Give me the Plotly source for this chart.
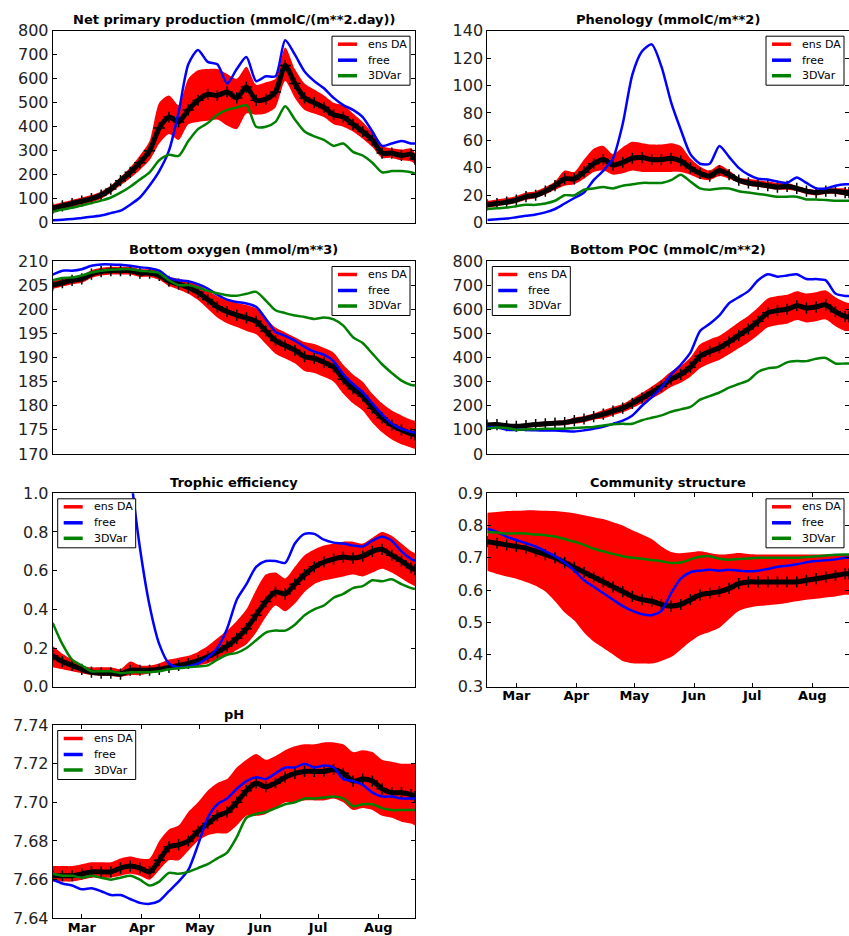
import pandas as pd
import plotly.graph_objects as go

# ---------------------------------------------------------------- data
# sample days counted from 14 Feb 2014 (every 5 days, plus the last day)
day_offsets = list(range(0, 186, 5)) + [187]
start_date = pd.Timestamp("2014-02-14")
dates = [start_date + pd.Timedelta(days=d) for d in day_offsets]

month_ticks = ["2014-03-01", "2014-04-01", "2014-05-01", "2014-06-01", "2014-07-01", "2014-08-01"]
month_labels = ["Mar", "Apr", "May", "Jun", "Jul", "Aug"]

series_names = ["ens DA", "free", "3DVar"]

# Net primary production (mmolC/(m**2.day))
npp_mean = [60, 70, 80, 90, 100, 115, 140, 175, 210, 250, 300, 395, 440, 420, 470, 510, 535, 530, 545, 520,
            565, 510, 515, 545, 655, 580, 520, 500, 480, 450, 440, 410, 380, 345, 290, 290, 280, 285, 265]
npp_lo = [45, 55, 65, 75, 85, 100, 125, 155, 185, 220, 260, 330, 370, 345, 410, 420, 425, 430, 405, 390,
          455, 450, 455, 480, 590, 520, 470, 455, 440, 410, 400, 380, 350, 315, 270, 270, 260, 255, 245]
npp_hi = [75, 85, 95, 105, 115, 130, 155, 190, 230, 280, 340, 500, 530, 490, 600, 635, 640, 640, 620, 600,
          650, 575, 585, 600, 730, 640, 580, 555, 530, 500, 490, 455, 420, 375, 320, 310, 305, 310, 290]
npp_free = [10, 12, 15, 20, 25, 30, 40, 50, 75, 105, 155, 215, 300, 460, 660, 720, 670, 660, 580, 640,
            690, 590, 610, 610, 760, 700, 630, 590, 560, 520, 490, 470, 440, 380, 320, 330, 340, 330, 330]
npp_3dvar = [45, 55, 62, 72, 82, 92, 105, 125, 150, 180, 210, 260, 283, 278, 340, 390, 415, 450, 470, 480,
             490, 400, 400, 420, 485, 430, 380, 360, 345, 320, 330, 295, 280, 250, 210, 215, 215, 210, 205]

# Phenology (mmolC/m**2)
phen_mean = [13, 14, 15, 16.5, 19, 20, 23, 27, 32, 32, 37, 43, 46, 42, 44, 47, 47.5, 46, 46, 47,
             45, 40, 36, 34, 38, 35, 31, 29, 28, 27, 26, 26.5, 25, 23, 22, 23, 23, 22, 22]
phen_lo = [11, 12, 13, 14.5, 16.5, 18, 20.5, 24, 27, 28, 32, 37, 38, 35, 36, 38, 37, 37, 37, 37,
           37, 35, 32, 31, 34, 32, 29, 27, 26, 25, 24, 24, 23, 21, 20, 21, 21, 20, 20]
phen_hi = [16, 17, 18, 19.5, 22, 23, 26, 30, 38, 37, 46, 54, 56, 50, 55, 59, 58, 57, 57, 58,
           56, 47, 41, 38, 42, 38, 33, 32, 31, 30, 29, 29, 27, 25, 24, 25, 25, 25, 24]
phen_free = [2, 2.5, 3, 4, 5, 6, 7.5, 10, 14, 18, 22, 31, 38, 47, 72, 108, 125, 130, 114, 88,
             68, 50, 43, 43, 56, 48, 40, 35, 32, 31.5, 30, 29, 33, 29, 25, 25, 27, 28, 28]
phen_3dvar = [10, 10.5, 11, 12, 13, 13, 14, 16, 20, 20, 24, 25, 26, 25, 27, 28, 29, 29, 29, 31,
              35, 30, 25, 24, 25, 25, 23, 22, 21, 20, 19, 19, 19, 17, 17, 16.5, 16, 16, 16]

# Bottom oxygen (mmol/m**3)
oxy_mean = [205.0, 205.5, 206.0, 206.3, 207.3, 207.8, 208.0, 208.0, 208.0, 207.5, 207.5, 207.0, 205.8,
            205.2, 204.5, 203.5, 202.0, 200.5, 199.5, 198.8, 198.2, 197.5, 195.5, 193.5, 192.5, 191.5,
            190.2, 189.8, 189.0, 188.0, 185.5, 183.5, 182.0, 179.5, 177.5, 176.0, 175.0, 174.2, 174.0]
oxy_lo = [204.2, 204.7, 205.2, 205.5, 206.5, 207.0, 207.2, 207.2, 207.2, 206.7, 206.7, 206.1, 204.8,
          204.1, 203.2, 201.9, 200.1, 198.3, 197.1, 196.3, 195.5, 194.8, 192.8, 190.8, 189.8, 188.8,
          187.2, 186.8, 186.0, 185.0, 182.5, 180.5, 179.0, 176.5, 174.5, 173.0, 172.0, 171.3, 171.1]
oxy_hi = [205.8, 206.3, 206.8, 207.1, 208.1, 208.6, 208.8, 208.8, 208.8, 208.3, 208.3, 207.9, 206.8,
          206.3, 205.8, 205.1, 203.9, 202.7, 201.9, 201.3, 200.9, 200.2, 198.2, 196.2, 195.2, 194.2,
          193.2, 192.8, 192.0, 191.0, 188.5, 186.5, 185.0, 182.5, 180.5, 179.0, 178.0, 177.1, 176.9]
oxy_free = [207.2, 208.0, 208.0, 208.3, 209.0, 209.3, 209.3, 209.2, 209.0, 208.7, 208.5, 208.0, 206.5,
            206.0, 205.8, 205.2, 204.3, 203.0, 202.0, 201.5, 201.2, 200.5, 198.0, 195.3, 194.5, 193.5,
            192.2, 191.2, 190.6, 189.2, 186.5, 184.5, 182.8, 180.5, 178.2, 176.3, 175.2, 174.6, 174.4]
oxy_3dvar = [206.0, 206.5, 206.6, 207.0, 207.6, 208.0, 208.2, 208.3, 208.3, 208.0, 207.8, 207.5, 206.0,
             205.0, 205.0, 204.5, 203.8, 203.3, 202.9, 202.8, 203.2, 203.6, 201.8, 199.8, 199.2, 198.7,
             198.4, 198.0, 198.3, 197.9, 196.6, 194.2, 193.0, 190.8, 188.6, 186.8, 185.2, 184.3, 184.2]

# Bottom POC (mmolC/m**2)
poc_mean = [120, 122, 117, 115, 118, 122, 125, 128, 130, 138, 145, 155, 165, 178, 190, 210, 232, 255, 280, 310,
            330, 360, 405, 425, 440, 465, 492, 518, 550, 585, 595, 600, 615, 605, 610, 618, 590, 570, 568]
poc_lo = [112, 114, 109, 107, 110, 112, 115, 118, 120, 125, 132, 142, 148, 161, 173, 190, 210, 230, 252, 278,
          295, 320, 355, 375, 390, 413, 438, 463, 493, 525, 535, 540, 555, 545, 550, 558, 530, 510, 510]
poc_hi = [128, 130, 125, 123, 126, 132, 135, 138, 140, 151, 158, 168, 182, 195, 207, 230, 254, 280, 308, 342,
          365, 400, 455, 475, 490, 517, 546, 573, 607, 645, 655, 660, 675, 665, 670, 678, 650, 630, 626]
poc_free = [110, 110, 100, 100, 100, 98, 97, 97, 95, 93, 98, 105, 113, 125, 138, 160, 200, 235, 275, 330,
            370, 420, 510, 540, 575, 625, 650, 675, 720, 745, 735, 740, 745, 725, 725, 720, 665, 655, 655]
poc_3dvar = [105, 110, 108, 100, 102, 103, 105, 105, 105, 108, 110, 112, 118, 123, 125, 125, 140, 150, 160, 175,
             185, 195, 225, 240, 255, 275, 290, 305, 340, 355, 360, 380, 385, 385, 395, 398, 375, 375, 375]

# Trophic efficiency
troph_mean = [0.16, 0.13, 0.11, 0.09, 0.075, 0.07, 0.07, 0.065, 0.085, 0.085, 0.085, 0.09, 0.10, 0.11, 0.12,
              0.135, 0.155, 0.18, 0.21, 0.25, 0.30, 0.37, 0.44, 0.49, 0.48, 0.53, 0.58, 0.62, 0.645, 0.66,
              0.67, 0.665, 0.675, 0.70, 0.71, 0.68, 0.65, 0.615, 0.605]
troph_lo = [0.10, 0.09, 0.08, 0.07, 0.06, 0.055, 0.055, 0.05, 0.06, 0.06, 0.07, 0.08, 0.09, 0.09, 0.10,
            0.11, 0.12, 0.14, 0.16, 0.19, 0.22, 0.28, 0.36, 0.42, 0.39, 0.43, 0.49, 0.53, 0.55, 0.56,
            0.57, 0.58, 0.57, 0.59, 0.61, 0.59, 0.56, 0.53, 0.52]
troph_hi = [0.21, 0.17, 0.14, 0.11, 0.10, 0.10, 0.10, 0.09, 0.13, 0.11, 0.11, 0.12, 0.14, 0.15, 0.16,
            0.18, 0.21, 0.25, 0.29, 0.34, 0.40, 0.50, 0.58, 0.59, 0.56, 0.62, 0.68, 0.71, 0.73, 0.74,
            0.75, 0.75, 0.74, 0.77, 0.80, 0.78, 0.74, 0.70, 0.69]
troph_free = [None, None, None, None, None, None, None, 1.6, 1.12, 0.72, 0.42, 0.22, 0.12, 0.10, 0.105,
              0.12, 0.15, 0.20, 0.30, 0.45, 0.53, 0.62, 0.65, 0.65, 0.64, 0.74, 0.79, 0.79, 0.76, 0.745,
              0.74, 0.73, 0.725, 0.755, 0.775, 0.755, 0.70, 0.66, 0.65]
troph_3dvar = [0.33, 0.22, 0.14, 0.11, 0.08, 0.08, 0.08, 0.07, 0.075, 0.075, 0.075, 0.08, 0.09, 0.095, 0.10,
               0.105, 0.11, 0.14, 0.165, 0.175, 0.20, 0.24, 0.28, 0.29, 0.29, 0.32, 0.37, 0.40, 0.42, 0.46,
               0.48, 0.51, 0.52, 0.55, 0.545, 0.555, 0.53, 0.51, 0.505]

# Community structure
comm_mean = [0.75, 0.745, 0.74, 0.735, 0.73, 0.72, 0.71, 0.70, 0.685, 0.67, 0.655, 0.64, 0.625, 0.61, 0.595,
             0.58, 0.57, 0.565, 0.555, 0.55, 0.555, 0.57, 0.585, 0.59, 0.595, 0.605, 0.62, 0.625, 0.625,
             0.625, 0.625, 0.625, 0.625, 0.63, 0.635, 0.64, 0.645, 0.65, 0.65]
comm_lo = [0.66, 0.65, 0.642, 0.635, 0.625, 0.613, 0.595, 0.565, 0.53, 0.505, 0.468, 0.44, 0.42, 0.40, 0.38,
           0.373, 0.372, 0.372, 0.38, 0.392, 0.415, 0.44, 0.46, 0.47, 0.483, 0.51, 0.535, 0.545, 0.55,
           0.553, 0.556, 0.56, 0.565, 0.57, 0.573, 0.577, 0.58, 0.585, 0.585]
comm_hi = [0.84, 0.842, 0.845, 0.846, 0.847, 0.847, 0.846, 0.845, 0.842, 0.838, 0.832, 0.826, 0.82, 0.81, 0.80,
           0.785, 0.772, 0.758, 0.735, 0.718, 0.714, 0.717, 0.72, 0.715, 0.71, 0.712, 0.715, 0.712, 0.71,
           0.71, 0.71, 0.71, 0.71, 0.71, 0.71, 0.71, 0.71, 0.71, 0.71]
comm_free = [0.79, 0.78, 0.765, 0.755, 0.745, 0.735, 0.72, 0.705, 0.685, 0.66, 0.63, 0.61, 0.59, 0.57, 0.55,
             0.535, 0.525, 0.522, 0.535, 0.59, 0.635, 0.655, 0.66, 0.663, 0.66, 0.663, 0.66, 0.658, 0.66,
             0.665, 0.672, 0.675, 0.68, 0.686, 0.69, 0.692, 0.695, 0.70, 0.70]
comm_3dvar = [0.78, 0.778, 0.775, 0.776, 0.775, 0.772, 0.77, 0.766, 0.758, 0.75, 0.74, 0.728, 0.72, 0.712,
              0.705, 0.70, 0.697, 0.693, 0.689, 0.684, 0.685, 0.695, 0.703, 0.705, 0.697, 0.694, 0.696,
              0.698, 0.70, 0.70, 0.70, 0.70, 0.70, 0.702, 0.705, 0.707, 0.709, 0.71, 0.71]

# pH
ph_mean = [7.662, 7.662, 7.662, 7.663, 7.664, 7.664, 7.664, 7.666, 7.667, 7.666, 7.664, 7.670, 7.677,
           7.678, 7.680, 7.685, 7.689, 7.693, 7.695, 7.700, 7.706, 7.710, 7.708, 7.710, 7.713, 7.715,
           7.716, 7.716, 7.716, 7.717, 7.715, 7.711, 7.712, 7.711, 7.707, 7.705, 7.705, 7.704, 7.703]
ph_lo = [7.659, 7.659, 7.659, 7.660, 7.661, 7.661, 7.661, 7.662, 7.663, 7.662, 7.660, 7.665, 7.670,
         7.670, 7.675, 7.680, 7.683, 7.684, 7.684, 7.688, 7.693, 7.693, 7.694, 7.697, 7.700, 7.700,
         7.701, 7.701, 7.701, 7.702, 7.700, 7.696, 7.697, 7.696, 7.693, 7.692, 7.690, 7.689, 7.688]
ph_hi = [7.667, 7.667, 7.667, 7.668, 7.669, 7.669, 7.669, 7.671, 7.672, 7.671, 7.671, 7.680, 7.686,
         7.688, 7.695, 7.700, 7.706, 7.710, 7.712, 7.718, 7.722, 7.725, 7.722, 7.724, 7.727, 7.729,
         7.730, 7.730, 7.731, 7.731, 7.730, 7.726, 7.727, 7.726, 7.722, 7.721, 7.720, 7.720, 7.720]
ph_free = [7.660, 7.658, 7.657, 7.655, 7.6555, 7.654, 7.652, 7.652, 7.650, 7.648, 7.6475, 7.649, 7.654,
           7.659, 7.665, 7.678, 7.692, 7.699, 7.702, 7.707, 7.711, 7.713, 7.712, 7.715, 7.718, 7.718,
           7.720, 7.718, 7.719, 7.718, 7.712, 7.711, 7.709, 7.705, 7.703, 7.703, 7.702, 7.702, 7.702]
ph_3dvar = [7.663, 7.662, 7.662, 7.661, 7.662, 7.661, 7.660, 7.661, 7.662, 7.660, 7.657, 7.659, 7.6635,
            7.663, 7.664, 7.666, 7.668, 7.671, 7.674, 7.682, 7.692, 7.694, 7.695, 7.697, 7.699, 7.700,
            7.702, 7.702, 7.7025, 7.703, 7.702, 7.698, 7.699, 7.699, 7.697, 7.696, 7.696, 7.696, 7.696]

# ---------------------------------------------------------------- panels
panels = [
    dict(title="Net primary production (mmolC/(m**2.day))", data=(npp_mean, npp_lo, npp_hi, npp_free, npp_3dvar),
         yrange=[0, 800], dtick=100, fmt="d", row=0, col=0, legend_side="right", xlabels=False),
    dict(title="Phenology (mmolC/m**2)", data=(phen_mean, phen_lo, phen_hi, phen_free, phen_3dvar),
         yrange=[0, 140], dtick=20, fmt="d", row=0, col=1, legend_side="right", xlabels=False),
    dict(title="Bottom oxygen (mmol/m**3)", data=(oxy_mean, oxy_lo, oxy_hi, oxy_free, oxy_3dvar),
         yrange=[170, 210], dtick=5, fmt="d", row=1, col=0, legend_side="right", xlabels=False),
    dict(title="Bottom POC (mmolC/m**2)", data=(poc_mean, poc_lo, poc_hi, poc_free, poc_3dvar),
         yrange=[0, 800], dtick=100, fmt="d", row=1, col=1, legend_side="left", xlabels=False),
    dict(title="Trophic efficiency", data=(troph_mean, troph_lo, troph_hi, troph_free, troph_3dvar),
         yrange=[0, 1.0], dtick=0.2, fmt=".1f", row=2, col=0, legend_side="left", xlabels=False),
    dict(title="Community structure", data=(comm_mean, comm_lo, comm_hi, comm_free, comm_3dvar),
         yrange=[0.3, 0.9], dtick=0.1, fmt=".1f", row=2, col=1, legend_side="right", xlabels=True),
    dict(title="pH", data=(ph_mean, ph_lo, ph_hi, ph_free, ph_3dvar),
         yrange=[7.64, 7.74], dtick=0.02, fmt=".2f", row=3, col=0, legend_side="left", xlabels=True),
]

# ---------------------------------------------------------------- geometry (pixels)
W, H = 849, 936
col_px = [(52.7, 415.0), (487.3, 849.0)]
row_px = [(30.7, 222.7), (261.0, 454.0), (493.3, 686.7), (725.0, 918.3)]
FONT = "DejaVu Sans"
RED, BLUE, GREEN = "#ff0000", "#0000ff", "#008000"
KEY_COLORS = [RED, BLUE, GREEN]
LEG_W, LEG_H = 78, 49
KEY_ROWS = [8, 24, 39.5]


def fx(px):
    return px / W


def fy(px):
    return 1 - px / H


fig = go.Figure()
annotations, shapes = [], []
axes = {}
SMOOTH = 0.7

for i, p in enumerate(panels, start=1):
    xa, ya = f"x{i}", f"y{i}"
    mean, lo, hi, free, var3 = p["data"]
    common = dict(xaxis=xa, yaxis=ya, showlegend=False)

    # ensemble spread band
    fig.add_trace(go.Scatter(x=dates, y=lo, mode="lines", line=dict(width=0, shape="spline", smoothing=SMOOTH),
                             hoverinfo="skip", **common))
    fig.add_trace(go.Scatter(x=dates, y=hi, mode="lines", line=dict(width=0, shape="spline", smoothing=SMOOTH),
                             fill="tonexty", fillcolor=RED, hoverinfo="skip", name="ens DA", **common))
    # ensemble mean
    fig.add_trace(go.Scatter(x=dates, y=mean, mode="lines+markers", name="ens DA mean",
                             line=dict(color="black", width=5, shape="spline", smoothing=SMOOTH),
                             marker=dict(symbol="cross-thin", size=8, line=dict(color="black", width=1.5)),
                             **common))
    fig.add_trace(go.Scatter(x=dates, y=free, mode="lines", name="free",
                             line=dict(color=BLUE, width=2.5, shape="spline", smoothing=SMOOTH), **common))
    fig.add_trace(go.Scatter(x=dates, y=var3, mode="lines", name="3DVar",
                             line=dict(color=GREEN, width=2.5, shape="spline", smoothing=SMOOTH), **common))

    x0, x1 = col_px[p["col"]]
    y0, y1 = row_px[p["row"]]
    axis_common = dict(showline=True, linecolor="black", linewidth=1, showgrid=False, zeroline=False)
    axes[f"xaxis{i}"] = dict(domain=[fx(x0), fx(x1)], anchor=ya, type="date",
                             range=["2014-02-14", "2014-08-20"], tickmode="array",
                             tickvals=month_ticks, ticktext=[f"<b>{m}</b>" for m in month_labels],
                             showticklabels=p["xlabels"], ticks="inside" if p["xlabels"] else "",
                             ticklen=4, tickcolor="black", mirror="ticks" if p["xlabels"] else True,
                             ticklabelstandoff=-3,
                             tickfont=dict(family=FONT, size=13, color="black"), **axis_common)
    axes[f"yaxis{i}"] = dict(domain=[fy(y1), fy(y0)], anchor=xa, range=p["yrange"], dtick=p["dtick"],
                             tick0=p["yrange"][0], tickformat=p["fmt"], ticks="inside", ticklen=4,
                             tickcolor="black", mirror="ticks",
                             tickfont=dict(family=FONT, size=16, color="#222222"), **axis_common)

    # panel title
    annotations.append(dict(text=f"<b>{p['title']}</b>", x=fx((x0 + x1) / 2), y=fy(y0 - 11),
                            xref="paper", yref="paper", xanchor="center", yanchor="middle",
                            showarrow=False, font=dict(family=FONT, size=13, color="black")))

    # legend box inside the panel
    if p["legend_side"] == "right":
        lx0 = min(x1, 851.7) - 5 - LEG_W
    else:
        lx0 = x0 + 5
    ly0 = y0 + 5.5
    shapes.append(dict(type="rect", xref="paper", yref="paper", x0=fx(lx0), x1=fx(lx0 + LEG_W),
                       y0=fy(ly0 + LEG_H), y1=fy(ly0), line=dict(color="black", width=1),
                       fillcolor="white", layer="above"))
    for name, color, dy in zip(series_names, KEY_COLORS, KEY_ROWS):
        shapes.append(dict(type="line", xref="paper", yref="paper", x0=fx(lx0 + 6), x1=fx(lx0 + 25),
                           y0=fy(ly0 + dy), y1=fy(ly0 + dy), line=dict(color=color, width=3.5),
                           layer="above"))
        annotations.append(dict(text=name, x=fx(lx0 + 34), y=fy(ly0 + dy), xref="paper", yref="paper",
                                xanchor="left", yanchor="middle", showarrow=False,
                                font=dict(family=FONT, size=11, color="black")))

fig.update_layout(width=W, height=H, margin=dict(l=0, r=0, t=0, b=0, autoexpand=False),
                  paper_bgcolor="white", plot_bgcolor="white", showlegend=False,
                  annotations=annotations, shapes=shapes, **axes)
fig.write_html("out.html")
